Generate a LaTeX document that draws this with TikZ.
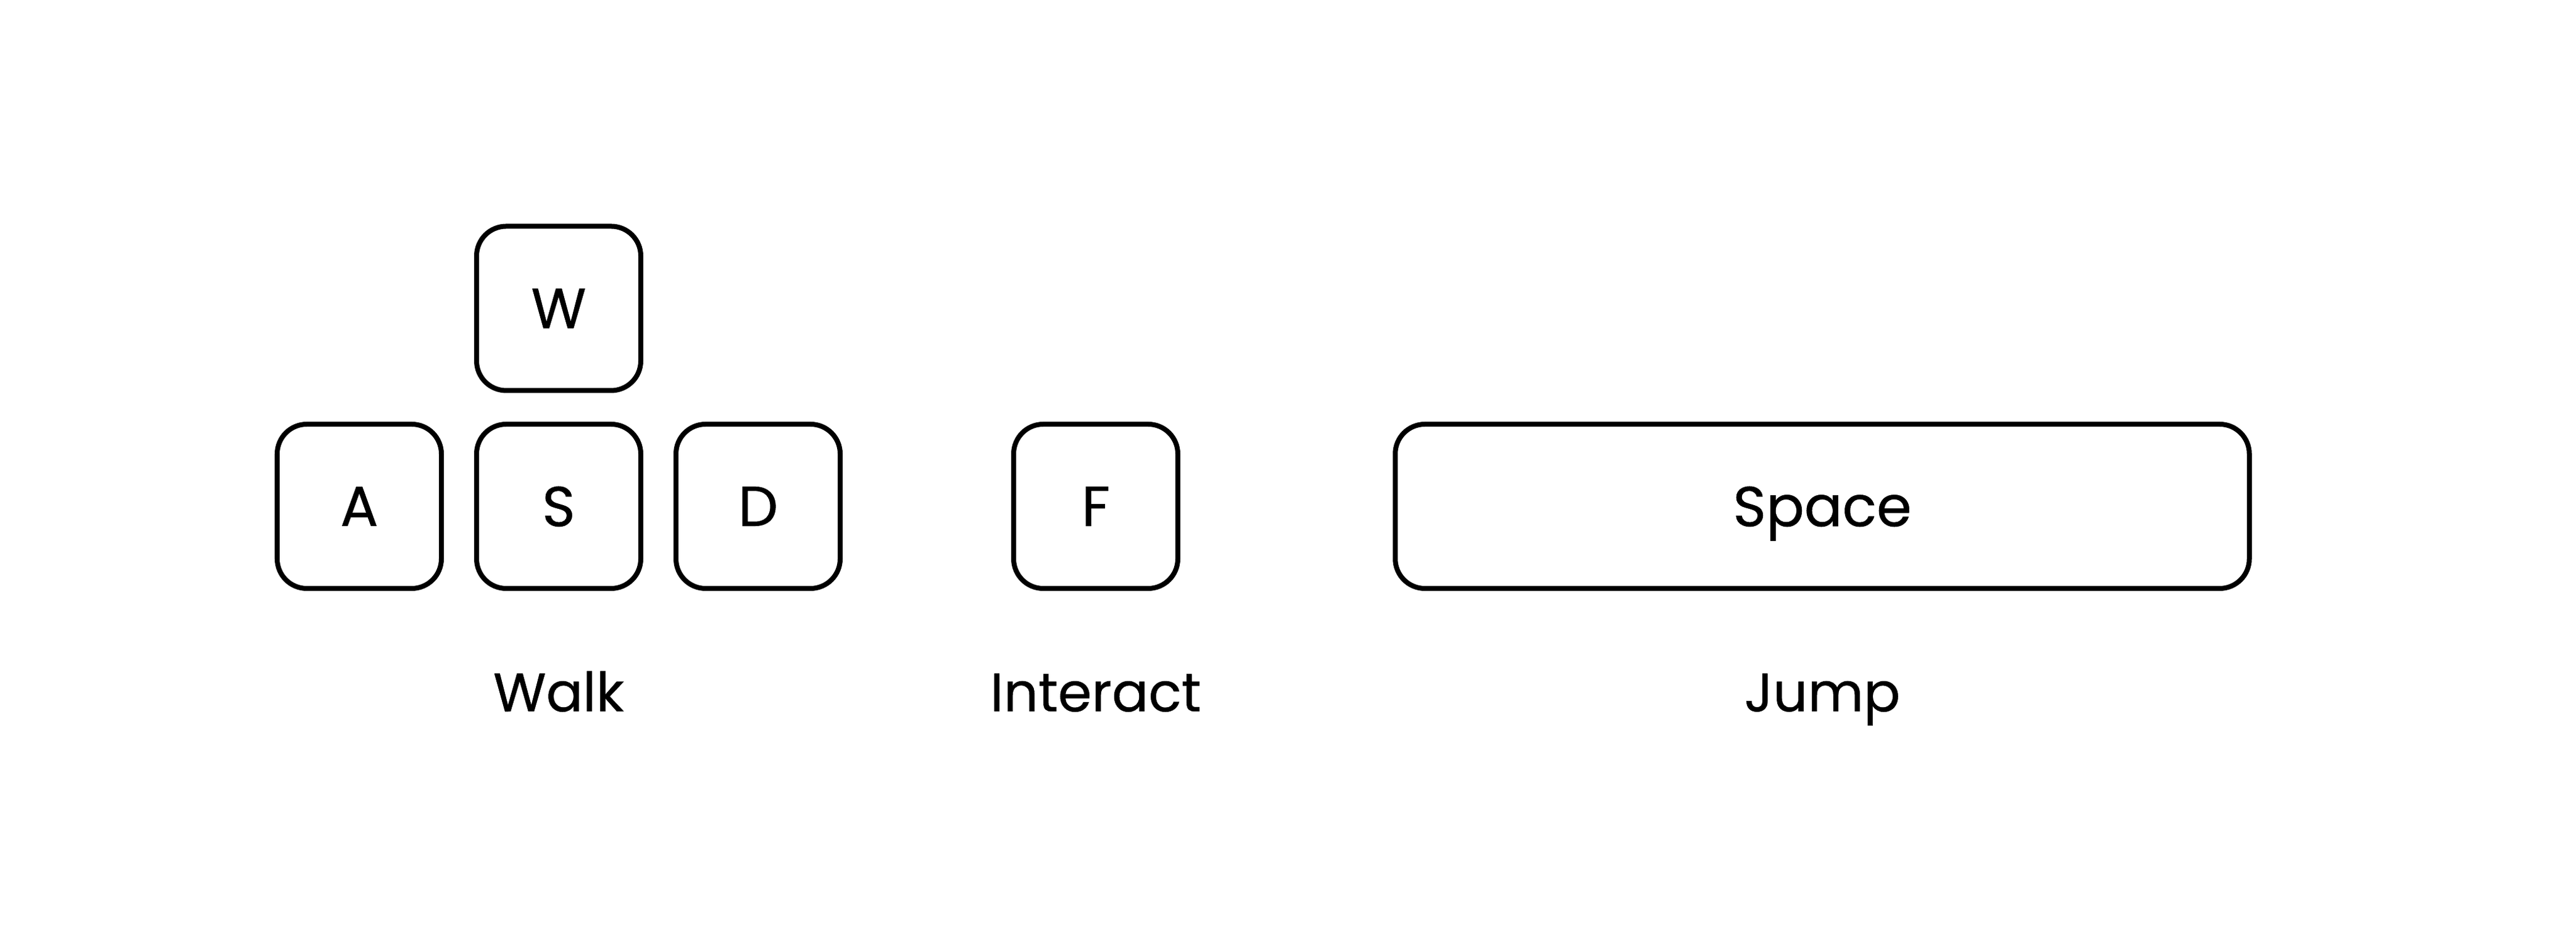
\documentclass[tikz,border=0pt]{standalone}
\usepackage{fontspec}
\setmainfont{Poppins}[FakeBold=0.5]
\usetikzlibrary{positioning}

\tikzset{
    keycap/.style={draw, line width=2.28pt, rounded corners=0.48cm,
        minimum width=2.66cm, minimum height=2.66cm, inner sep=0pt,
        text depth=0pt, font=\fontsize{26}{30}\selectfont},
    action/.style={inner sep=0pt, anchor=base, font=\fontsize{25}{30}\selectfont},
}

\begin{document}
\begin{tikzpicture}[node distance=0.465cm and 0.49cm]
    \useasboundingbox (0,0) rectangle (41.73,15.19);

    % Walk: W A S D
    \node[keycap] (A) at (5.82,6.99) {A};
    \node[keycap, right=of A] (S) {S};
    \node[keycap, right=of S] (D) {D};
    \node[keycap, above=of S] (W) {W};
    \node[below=1.95 of S, action] (walk) {Walk};

    % Interact
    \node[keycap] (F) at (17.75,6.99) {F};
    \node[below=1.95 of F, action] (interact) {Interact};

    % Jump
    \node[keycap, minimum width=13.835cm] (space) at (29.52,6.99) {Space};
    \node[below=1.95 of space, action] (jump) {Jump};
\end{tikzpicture}
\end{document}
